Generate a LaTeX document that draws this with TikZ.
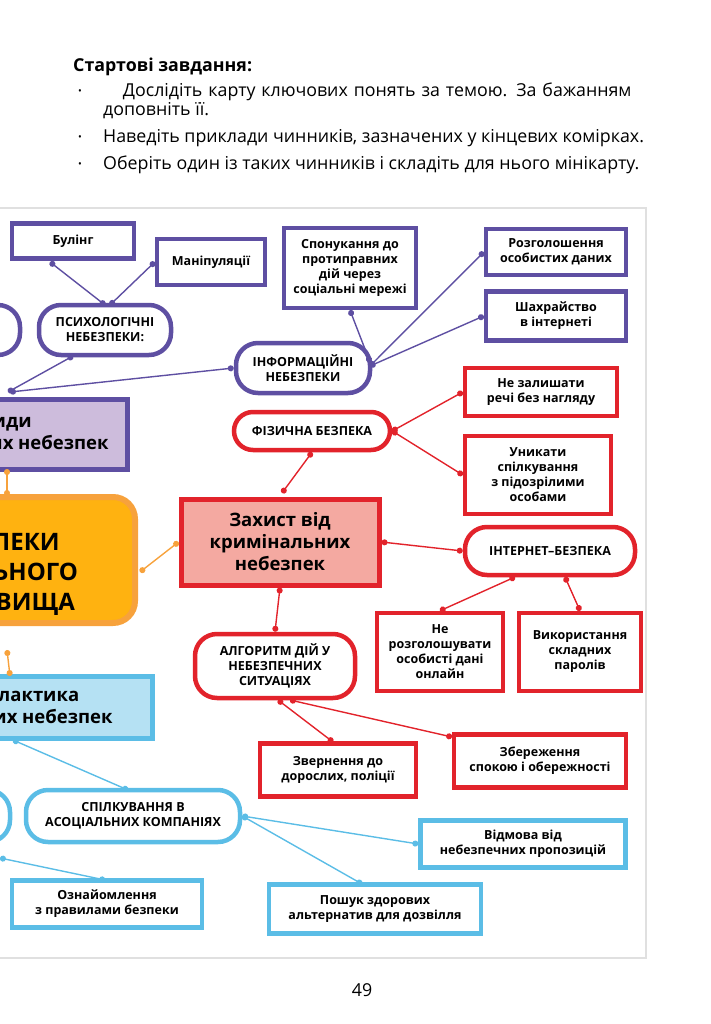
\documentclass[tikz,border=0pt]{standalone}
\usepackage{fontspec}
\setmainfont{Open Sans}
\usetikzlibrary{arrows.meta, positioning}
\definecolor{violetline}{HTML}{5E4FA2}
\definecolor{violetfill}{HTML}{CDBCDC}
\definecolor{redline}{HTML}{E2232B}
\definecolor{redfill}{HTML}{F4A9A1}
\definecolor{blueline}{HTML}{5BBDE6}
\definecolor{bluefill}{HTML}{B5E1F3}
\definecolor{orangeline}{HTML}{F7A23C}
\definecolor{orangefill}{HTML}{FFB210}
\tikzset{
    boxnode/.style = {draw, rectangle, line width=4.5pt, fill=white, inner sep=0pt,
      font=\fontsize{12.5}{15}\selectfont\bfseries, align=center},
    roundnode/.style = {draw, rectangle, rounded corners=22pt, line width=4.5pt, fill=white,
      inner sep=0pt, font=\fontsize{12.5}{15}\selectfont\bfseries, align=center},
    bignode/.style = {draw, rectangle, line width=5pt, inner sep=0pt,
      font=\fontsize{18.5}{22}\selectfont\bfseries, align=center},
    connect/.style = {line width=1.4pt, {Circle[length=6pt]}-{Circle[length=6pt]}},
    tasktext/.style = {anchor=west, inner sep=0pt, font=\fontsize{17.8}{19}\selectfont},
    every text node part/.style={align=center}
}
\begin{document}
\begin{tikzpicture}[x=1pt,y=-1pt]
    \useasboundingbox (0,0) rectangle (710,1024);

    % task text
    \node [name=title, tasktext, font=\fontsize{17.8}{19}\selectfont\bfseries] at (73,67) {Стартові завдання:};
    \node [name=task1, tasktext, text width=548pt, align=justify] at (103,92)
        {\noindent\parfillskip=0pt Дослідіть карту ключових понять за темою. За бажанням\par};
    \node [name=task1b, tasktext] at (103,111) {доповніть її.};
    \node [name=task2, tasktext] at (103,138)
        {Наведіть приклади чинників, зазначених у кінцевих комірках.};
    \node [name=task3, tasktext] at (103,165)
        {Оберіть один із таких чинників і складіть для нього мінікарту.};
    \foreach \y in {92,138,165} \node [font=\normalsize] at (80,\y) {•};
    \node [name=page, font=\fontsize{17.8}{19}\selectfont] at (362,990) {49};

    \draw [black!12, line width=1.5pt] (0,208) -- (646,208) -- (646,958) -- (0,958);

    \begin{scope}
    \clip (0,0) rectangle (710,1024);

    % violet branch
    \node [name=kinds, bignode, draw=violetline, fill=violetfill, minimum width=260pt, minimum height=70pt] at (-3,434) {};
    \node [name=kindstext, font=\fontsize{18.5}{22}\selectfont\bfseries] at (6,434) {Види\\соціальних небезпек};
    \node [name=bully, boxnode, draw=violetline, minimum width=122pt, minimum height=35pt] at (73,241) {Булінг};
    \node [name=manip, boxnode, draw=violetline, minimum width=108pt, minimum height=46pt] at (211,262) {Маніпуляції};
    \node [name=incite, boxnode, draw=violetline, minimum width=132pt, minimum height=80pt] at (350,268) {Спонукання до\\протиправних\\дій через\\соціальні мережі};
    \node [name=disclose, boxnode, draw=violetline, minimum width=140pt, minimum height=46pt] at (556,252) {Розголошення\\особистих даних};
    \node [name=fraud, boxnode, draw=violetline, minimum width=140pt, minimum height=49pt] at (556,316) {Шахрайство\\в інтернеті};
    \node [name=psych, roundnode, draw=violetline, minimum width=132pt, minimum height=50pt] at (105,330) {ПСИХОЛОГІЧНІ\\НЕБЕЗПЕКИ:};
    \node [name=phys0, roundnode, draw=violetline, minimum width=80pt, minimum height=50pt] at (-20,330) {};
    \node [name=info, roundnode, draw=violetline, minimum width=134pt, minimum height=50pt] at (303,368) {ІНФОРМАЦІЙНІ\\НЕБЕЗПЕКИ};

    \draw [connect, violetline] (50,262) -- (105,305);
    \draw [connect, violetline] (manip.west) -- (110,305);
    \draw [connect, violetline] (73,356) -- (8,392);
    \draw [connect, violetline] (info.west) -- (10,392);
    \draw [connect, violetline] (incite.south) -- (370,362);
    \draw [connect, violetline] (disclose.west) -- (370,366);
    \draw [connect, violetline] (fraud.west) -- (370,366);

    % orange centre
    \node [name=main, bignode, draw=orangeline, fill=orangefill, rounded corners=22pt, line width=6pt,
        minimum width=290pt, minimum height=126pt] at (-10,560) {};
    \node [name=maintext, font=\fontsize{24}{30}\selectfont\bfseries] at (-12,574) {НЕБЕЗПЕКИ\\СОЦІАЛЬНОГО\\СЕРЕДОВИЩА};

    % red branch
    \node [name=crime, bignode, draw=redline, fill=redfill, minimum width=198pt, minimum height=86pt] at (280,542) {Захист від\\кримінальних\\небезпек};
    \node [name=physical, roundnode, draw=redline, rounded corners=19pt, minimum width=156pt, minimum height=38pt] at (312,431) {ФІЗИЧНА БЕЗПЕКА};
    \node [name=leave, boxnode, draw=redline, minimum width=152pt, minimum height=48pt] at (541,392) {Не залишати\\речі без нагляду};
    \node [name=avoid, boxnode, draw=redline, minimum width=146pt, minimum height=78pt] at (538,475) {Уникати\\спілкування\\з підозрілими\\особами};
    \node [name=internet, roundnode, draw=redline, minimum width=170pt, minimum height=48pt] at (550,551) {ІНТЕРНЕТ–БЕЗПЕКА};
    \node [name=nodata, boxnode, draw=redline, minimum width=126pt, minimum height=78pt] at (440,652) {Не\\розголошувати\\особисті дані\\онлайн};
    \node [name=password, boxnode, draw=redline, minimum width=122pt, minimum height=78pt] at (580,652) {Використання\\складних\\паролів};
    \node [name=algo, roundnode, draw=redline, minimum width=160pt, minimum height=64pt] at (275,666) {АЛГОРИТМ ДІЙ У\\НЕБЕЗПЕЧНИХ\\СИТУАЦІЯХ};
    \node [name=adults, boxnode, draw=redline, minimum width=156pt, minimum height=53pt] at (338,770) {Звернення до\\дорослих, поліції};
    \node [name=calm, boxnode, draw=redline, minimum width=172pt, minimum height=53pt] at (540,761) {Збереження\\спокою і обережності};

    \draw [connect, redline] (282,493) -- (physical.south);
    \draw [connect, redline] (physical.east) -- (leave.west);
    \draw [connect, redline] (physical.east) -- (avoid.west);
    \draw [connect, redline] (crime.east) -- (internet.west);
    \draw [connect, redline] (515,577) -- (nodata.north);
    \draw [connect, redline] (565,577) -- (password.north);
    \draw [connect, redline] (crime.south) -- (algo.north);
    \draw [connect, redline] (278,700) -- (333,742);
    \draw [connect, redline] (290,700) -- (452,737);

    % blue branch
    \node [name=prev, bignode, draw=blueline, fill=bluefill, minimum width=300pt, minimum height=62pt] at (2,707) {};
    \node [name=prevtext, font=\fontsize{18.5}{22}\selectfont\bfseries] at (10,707) {Профілактика\\соціальних небезпек};
    \node [name=left0, roundnode, draw=blueline, minimum width=100pt, minimum height=52pt] at (-40,816) {};
    \node [name=company, roundnode, draw=blueline, minimum width=214pt, minimum height=52pt] at (133,816) {СПІЛКУВАННЯ В\\АСОЦІАЛЬНИХ КОМПАНІЯХ};
    \node [name=rules, boxnode, draw=blueline, minimum width=190pt, minimum height=47pt] at (107,904) {Ознайомлення\\з правилами безпеки};
    \node [name=leisure, boxnode, draw=blueline, minimum width=212pt, minimum height=49pt] at (375,909) {Пошук здорових\\альтернатив для дозвілля};
    \node [name=refuse, boxnode, draw=blueline, minimum width=205pt, minimum height=47pt] at (523,844) {Відмова від\\небезпечних пропозицій};

    \draw [connect, blueline] (13,740) -- (128,790);
    \draw [connect, blueline] (company.east) -- (refuse.west);
    \draw [connect, blueline] (company.east) -- (362,884);
    \draw [connect, blueline] (0,858) -- (105,880);

    % orange links
    \draw [connect, orangeline] (7,469) -- (7,496);
    \draw [connect, orangeline] (140,572) -- (crime.west);
    \draw [connect, orangeline] (7,650) -- (10,676);
    \end{scope}
\end{tikzpicture}
\end{document}
